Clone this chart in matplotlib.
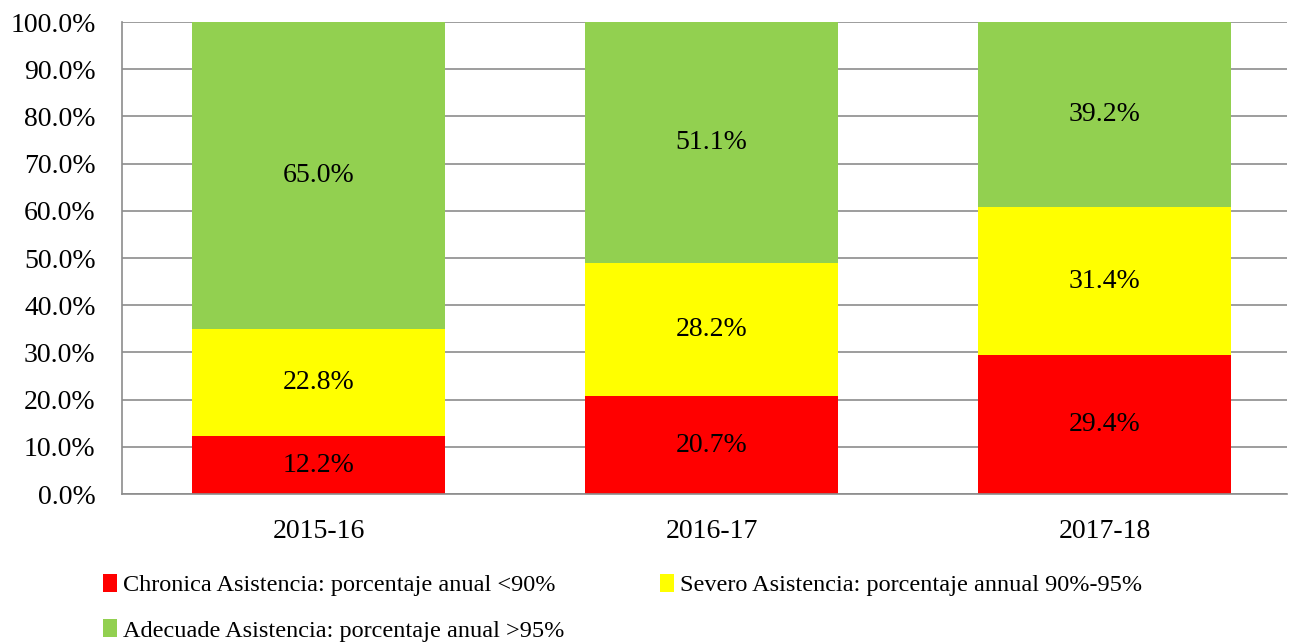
import matplotlib.pyplot as plt
import numpy as np

years = ["2015-16", "2016-17", "2017-18"]
chronica = [12.2, 20.7, 29.4]
severo = [22.8, 28.2, 31.4]
adecuade = [65.0, 51.1, 39.2]
series_labels = [
    "Chronica Asistencia: porcentaje anual <90%",
    "Severo Asistencia: porcentaje annual 90%-95%",
    "Adecuade Asistencia: porcentaje anual >95%",
]
colors = ["#ff0000", "#ffff00", "#92d050"]

plt.rcParams["font.family"] = ["Liberation Serif"]
fs = 20

fig = plt.figure(figsize=(13.01, 6.42), dpi=100)
ax = fig.add_axes([122 / 1301, 1 - 494 / 642, (1287 - 122) / 1301, (494 - 22) / 642])

x = np.arange(len(years))
bottom = np.zeros(len(years))
bars = []
for vals, c, lab in zip([chronica, severo, adecuade], colors, series_labels):
    b = ax.bar(x, vals, bottom=bottom, width=0.644, color=c, label=lab, zorder=2)
    for xi, v, b0 in zip(x, vals, bottom):
        ax.text(xi, b0 + v / 2, f"{v:.1f}%", ha="center", va="center", fontsize=fs, zorder=3)
    bottom += np.array(vals)
    bars.append(b)

ax.set_xlim(-0.5, 2.464)
ax.set_ylim(0, 100)
ax.set_yticks(np.arange(0, 101, 10))
ax.set_yticklabels([f"{v:.1f}%" for v in range(0, 101, 10)], fontsize=fs)
ax.set_xticks(x)
ax.set_xticklabels(years, fontsize=fs)
ax.tick_params(axis="y", length=0, pad=19)
ax.tick_params(axis="x", length=0, pad=18)
ax.yaxis.grid(True, color="#8c8c8c", linewidth=1.2, zorder=0)
for s in ["top", "right"]:
    ax.spines[s].set_visible(False)
for s in ["left", "bottom"]:
    ax.spines[s].set_color("#8c8c8c")
    ax.spines[s].set_linewidth(1.2)

# column-wise fill -> reorder so rows read Chronica, Severo / Adecuade
order = [0, 2, 1]
fig.legend(handles=[bars[i] for i in order], labels=[series_labels[i] for i in order],
           loc="upper left", bbox_to_anchor=(93 / 1301, 1 - 564 / 642),
           ncol=2, frameon=False, fontsize=17.5, handlelength=0.6, handleheight=0.75, handletextpad=0.25,
           columnspacing=3.9, labelspacing=0.95, borderaxespad=0)

fig.savefig("out.png", dpi=100)
